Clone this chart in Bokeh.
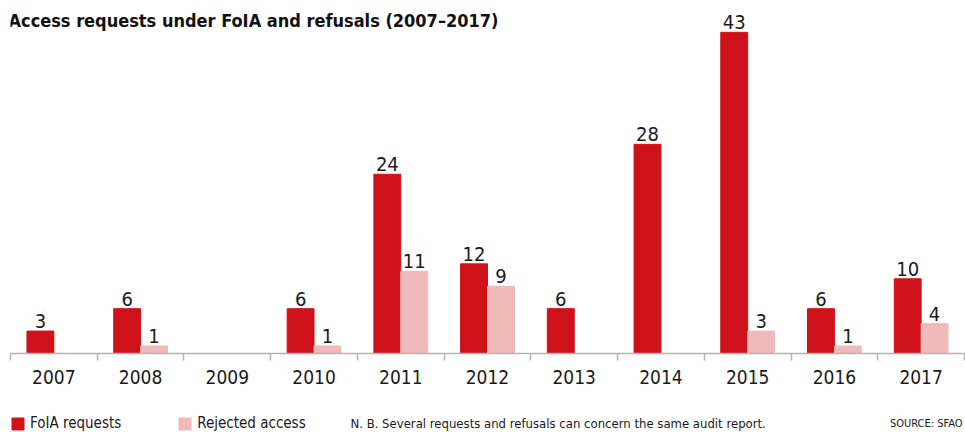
from bokeh.plotting import figure
from bokeh.layouts import column
from bokeh.models import (ColumnDataSource, Range1d, FixedTicker, Label, Legend, LegendItem)
from bokeh.core.properties import value
from bokeh.embed import file_html
from bokeh.resources import INLINE

years = [2007, 2008, 2009, 2010, 2011, 2012, 2013, 2014, 2015, 2016, 2017]
foia_requests = [3, 6, 0, 6, 24, 12, 6, 28, 43, 6, 10]
rejected_access = [0, 1, 0, 1, 11, 9, 0, 0, 3, 1, 4]
series_names = ["FoIA requests", "Rejected access"]

title_text = "Access requests under FoIA and refusals (2007\u20132017)"
note_text = "N. B. Several requests and refusals can concern the same audit report."
source_text = "SOURCE: SFAO"

RED = "#cf1119"
PINK = "#f0b9ba"
TXT = "#1a1a1a"
FONT = "DejaVu Sans Condensed"

W = 0.31
off = W / 2

red_x = [y - off for y in years]
pink_x = [y + off for y in years]

src_red = ColumnDataSource(dict(x=red_x, top=foia_requests))
src_pink = ColumnDataSource(dict(x=pink_x, top=rejected_access))

lab_red = ColumnDataSource(dict(
    x=[x for x, v in zip(red_x, foia_requests) if v > 0],
    y=[v for v in foia_requests if v > 0],
    t=[str(v) for v in foia_requests if v > 0]))
lab_pink = ColumnDataSource(dict(
    x=[x for x, v in zip(pink_x, rejected_access) if v > 0],
    y=[v for v in rejected_access if v > 0],
    t=[str(v) for v in rejected_access if v > 0]))

# ---------------- main chart ----------------
p = figure(width=965, height=400, output_backend="svg", toolbar_location=None,
           x_range=Range1d(years[0] - 0.5, years[-1] + 0.5),
           y_range=Range1d(0, 47.26),
           min_border_left=10, min_border_right=1, min_border_top=0,
           min_border_bottom=47, y_axis_location=None)
p.outline_line_color = None
p.grid.visible = False
p.background_fill_color = "white"
p.border_fill_color = "white"

p.vbar(x="x", top="top", width=W, source=src_red, color=RED)
p.vbar(x="x", top="top", width=W, source=src_pink, color=PINK)

for s in (lab_red, lab_pink):
    p.text(x="x", y="y", text="t", source=s, text_align="center",
           text_baseline="bottom", y_offset=-3, text_color=TXT,
           text_font=value(FONT), text_font_size="20px")

ax = p.xaxis[0]
ax.ticker = FixedTicker(ticks=years, minor_ticks=[y - 0.5 for y in years] + [years[-1] + 0.5])
ax.axis_line_color = "#b3b3b3"
ax.axis_line_width = 1.5
ax.major_tick_out = 0
ax.major_tick_in = 0
ax.minor_tick_out = 7
ax.minor_tick_in = 0
ax.minor_tick_line_color = "#b3b3b3"
ax.minor_tick_line_width = 1.5
ax.major_label_text_font = FONT
ax.major_label_text_font_size = "19px"
ax.major_label_text_color = TXT
ax.major_label_standoff = 9

p.add_layout(Label(x=8, y=20, x_units="canvas", y_units="canvas",
                   text=title_text, text_font=FONT, text_font_style="bold",
                   text_font_size="18px", text_color="#111111",
                   text_baseline="middle"))

# ---------------- bottom strip: legend, note, source ----------------
q = figure(width=965, height=32, output_backend="svg", toolbar_location=None,
           x_range=Range1d(0, 965), y_range=Range1d(0, 32),
           min_border=0, x_axis_location=None, y_axis_location=None)
q.outline_line_color = None
q.grid.visible = False
q.border_fill_color = "white"

# legend swatches (kept outside the visible range)
g1 = q.vbar(x=[-1000], top=[1], width=1, color=RED)
g2 = q.vbar(x=[-1000], top=[1], width=1, color=PINK)

legend = Legend(items=[LegendItem(label=series_names[0], renderers=[g1]),
                       LegendItem(label=series_names[1], renderers=[g2])],
                orientation="horizontal", location=(0, 0),
                label_text_font=FONT, label_text_font_size="15px",
                label_text_color=TXT, glyph_width=15, glyph_height=15,
                spacing=56, padding=0, margin=0, border_line_color=None,
                background_fill_alpha=0, label_standoff=5,
                label_height=18)
q.add_layout(legend, "center")

q.add_layout(Label(x=350, y=23, x_units="canvas", y_units="canvas",
                   text=note_text, text_font=FONT, text_font_size="13px",
                   text_color=TXT, text_baseline="middle"))
q.add_layout(Label(x=962, y=23, x_units="canvas", y_units="canvas",
                   text=source_text, text_font=FONT, text_font_size="11px",
                   text_color=TXT, text_baseline="middle", text_align="right"))

layout = column(p, q, spacing=0)
open("out.html", "w").write(file_html(layout, INLINE))
